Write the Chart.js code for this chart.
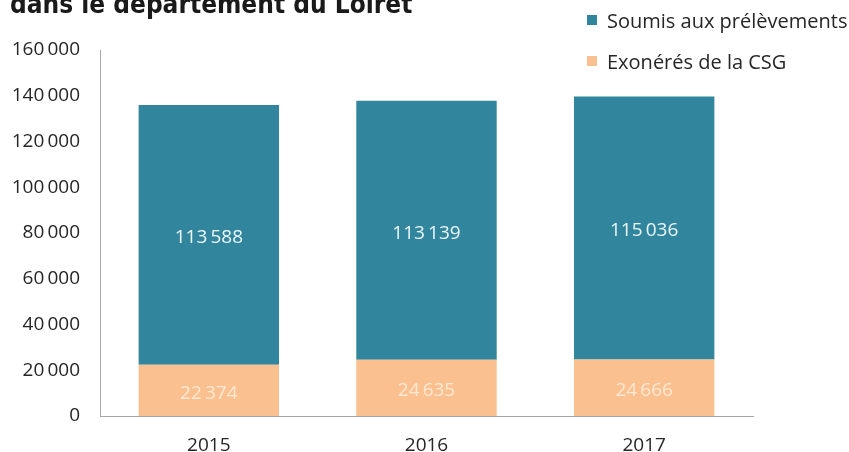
<!DOCTYPE html>
<html>
<head>
<meta charset="utf-8">
<script src="https://cdn.jsdelivr.net/npm/chart.js@4/dist/chart.umd.min.js"></script>
<style>
html,body{margin:0;padding:0;background:#fff;overflow:hidden;}
#wrap{position:relative;width:849px;height:452px;}
#title{position:absolute;left:10px;top:-9px;line-height:26px;font-family:"DejaVu Sans Condensed","DejaVu Sans",sans-serif;font-stretch:condensed;font-weight:bold;font-size:26px;color:#1a1a1a;white-space:nowrap;}
.leg{position:absolute;left:587px;height:20px;display:flex;align-items:center;font-family:"Open Sans",sans-serif;font-size:20px;color:#262626;white-space:nowrap;}
.leg span{display:inline-block;width:10px;height:10px;margin-right:10px;}
</style>
</head>
<body>
<div id="wrap">
<canvas id="c" width="849" height="452"></canvas>
<div id="title">dans le département du Loiret</div>
<div class="leg" style="top:10px"><span style="background:#31859C"></span>Soumis aux prélèvements</div>
<div class="leg" style="top:51px"><span style="background:#FAC090"></span>Exonérés de la CSG</div>
</div>
<script>
const categories = ["2015", "2016", "2017"];
const exoneres = [22374, 24635, 24666];
const soumis = [113588, 113139, 115036];
const seriesNames = ["Exonérés de la CSG", "Soumis aux prélèvements"];
const yTicks = [0, 20000, 40000, 60000, 80000, 100000, 120000, 140000, 160000];

function fmt(v){ return String(v).replace(/\B(?=(\d{3})+(?!\d))/g, '\u2009'); }

const labelPlugin = {
  id: 'barLabels',
  afterDatasetsDraw(chart){
    const ctx = chart.ctx;
    ctx.save();
    ctx.font = '19px "Open Sans", sans-serif';
    ctx.textAlign = 'center';
    ctx.textBaseline = 'middle';
    chart.data.datasets.forEach((ds, di) => {
      const meta = chart.getDatasetMeta(di);
      meta.data.forEach((el, i) => {
        const p = el.getProps(['x','y','base'], true);
        ctx.fillStyle = di === 0 ? 'rgba(255,250,240,0.7)' : 'rgba(245,252,255,0.95)';
        ctx.fillText(fmt(ds.data[i]), p.x, (p.y + p.base) / 2 + 3);
      });
    });
    ctx.restore();
  }
};

new Chart(document.getElementById('c'), {
  type: 'bar',
  data: {
    labels: categories,
    datasets: [
      { label: seriesNames[0], data: exoneres, backgroundColor: '#FAC090', categoryPercentage: 1, barPercentage: 0.645 },
      { label: seriesNames[1], data: soumis, backgroundColor: '#31859C', categoryPercentage: 1, barPercentage: 0.645 }
    ]
  },
  options: {
    responsive: false,
    animation: false,
    layout: { padding: { top: 50, right: 96, bottom: 0, left: 0 } },
    plugins: { legend: { display: false }, title: { display: false }, tooltip: { enabled: false } },
    scales: {
      x: {
        stacked: true,
        grid: { display: false, drawTicks: false },
        border: { color: '#a6a6a6', width: 1 },
        ticks: { color: '#262626', font: { family: '"Open Sans", sans-serif', size: 19 }, padding: 18 },
        afterFit(s){ s.height = 36; }
      },
      y: {
        stacked: true,
        min: 0, max: 160000,
        afterBuildTicks(s){ s.ticks = yTicks.map(v => ({ value: v })); },
        grid: { display: false, drawTicks: false },
        border: { color: '#a6a6a6', width: 1 },
        ticks: { color: '#262626', font: { family: '"Open Sans", sans-serif', size: 19 }, padding: 20, callback: v => fmt(v) },
        afterFit(s){ s.width = 100; }
      }
    }
  },
  plugins: [labelPlugin]
});
</script>
</body>
</html>
